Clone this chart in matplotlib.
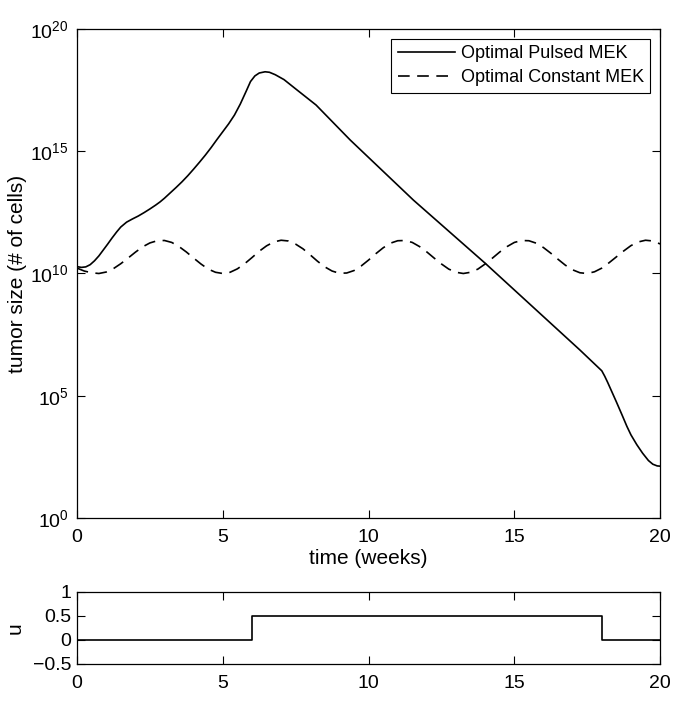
import matplotlib
matplotlib.use("Agg")
import matplotlib.pyplot as plt
import numpy as np

plt.rcParams['font.family'] = ['Liberation Sans', 'DejaVu Sans']
plt.rcParams['mathtext.fontset'] = 'custom'
plt.rcParams['mathtext.rm'] = 'Liberation Sans'
plt.rcParams['mathtext.it'] = 'Liberation Sans'
plt.rcParams['font.size'] = 14

# optimal pulsed MEK: time (weeks), log10 tumor size
pulsed_t = [0, 0.15, 0.3, 0.45, 0.6, 0.75, 0.9, 1.05, 1.2, 1.36, 1.5, 1.7, 1.9,
            2.1, 2.3, 2.5, 2.7, 2.85, 3.0, 3.2, 3.4, 3.6, 3.8, 4.0, 4.2, 4.4,
            4.6, 4.8, 5.0, 5.2, 5.4, 5.6, 5.8, 5.95, 6.1, 6.25, 6.45, 6.6, 6.8,
            7.1, 7.5, 8.2, 9.37, 11.54, 13.99, 17.25, 18.0, 18.1, 18.2, 18.35,
            18.5, 18.7, 18.86, 19.0, 19.2, 19.4, 19.6, 19.75, 19.9, 20.0]
pulsed_log = [10.28, 10.25, 10.27, 10.36, 10.52, 10.72, 10.96, 11.2, 11.45, 11.7,
              11.9, 12.1, 12.23, 12.35, 12.49, 12.64, 12.8, 12.93, 13.08, 13.3,
              13.52, 13.75, 14.0, 14.27, 14.55, 14.84, 15.15, 15.48, 15.8, 16.12,
              16.48, 16.93, 17.45, 17.85, 18.08, 18.2, 18.25, 18.23, 18.13,
              17.93, 17.55, 16.89, 15.46, 13.0, 10.43, 6.87, 6.02, 5.8, 5.55, 5.15,
              4.75, 4.2, 3.75, 3.4, 3.0, 2.65, 2.35, 2.2, 2.13, 2.12]

# optimal constant MEK, every quarter week
const_t = np.arange(0, 20.01, 0.25)
const_log = [10.22, 10.1, 10.03, 10.0, 10.06, 10.2, 10.4, 10.63, 10.87, 11.09,
             11.25, 11.34, 11.35, 11.27, 11.1, 10.88, 10.63, 10.39, 10.18, 10.05,
             10.0, 10.05, 10.19, 10.4, 10.65, 10.91, 11.13, 11.29, 11.36, 11.33,
             11.2, 11.01, 10.76, 10.5, 10.27, 10.1, 10.01, 10.02, 10.12, 10.31,
             10.55, 10.81, 11.05, 11.24, 11.34, 11.35, 11.27, 11.1, 10.88, 10.63,
             10.39, 10.18, 10.05, 10.0, 10.05, 10.18, 10.39, 10.63, 10.88, 11.1,
             11.27, 11.35, 11.34, 11.24, 11.06, 10.83, 10.58, 10.34, 10.15, 10.03,
             10.0, 10.07, 10.22, 10.44, 10.68, 10.92, 11.14, 11.29, 11.36, 11.33,
             11.21]

# control u
u_t = [0, 6, 6, 18, 18, 20]
u_val = [0, 0, 0.5, 0.5, 0, 0]

fig = plt.figure(figsize=(6.78, 7.09), dpi=100)
ax = fig.add_axes([0.1136, 0.2694, 0.86, 0.6897])
ax2 = fig.add_axes([0.1136, 0.0635, 0.86, 0.1016])

ax.plot(pulsed_t, 10 ** np.array(pulsed_log), 'k-', lw=1.2, label='Optimal Pulsed MEK')
ax.plot(const_t, 10 ** np.array(const_log), 'k--', lw=1.2, dashes=(7, 4.5),
        label='Optimal Constant MEK')
ax.set_yscale('log')
ax.set_xlim(0, 20)
ax.set_ylim(1, 1e20)
ax.set_yticks([1e0, 1e5, 1e10, 1e15, 1e20])
ax.yaxis.set_minor_locator(matplotlib.ticker.NullLocator())
ax.set_xticks([0, 5, 10, 15, 20])
ax.set_xlabel('time (weeks)', fontsize=15, labelpad=2)
ax.set_ylabel('tumor size (# of cells)', fontsize=15)
ax.yaxis.set_label_coords(-0.085, 0.5)
ax.tick_params(direction='in', top=True, right=True, length=6, width=0.8)
ax.tick_params(axis='y', pad=6)
ax.tick_params(axis='x', pad=8)
leg = ax.legend(loc='upper right', borderaxespad=0.55, handlelength=3.2,
                fancybox=False, framealpha=1, edgecolor='k', borderpad=0.35,
                labelspacing=0.4, handletextpad=0.3, fontsize=13)
leg.get_frame().set_linewidth(0.8)

ax2.plot(u_t, u_val, 'k-', lw=1.2)
ax2.set_xlim(0, 20)
ax2.set_ylim(-0.5, 1)
ax2.set_yticks([-0.5, 0, 0.5, 1])
ax2.set_yticklabels(['\u22120.5', '0', '0.5', '1'])
ax2.set_xticks([0, 5, 10, 15, 20])
ax2.set_ylabel('u', fontsize=15)
ax2.yaxis.set_label_coords(-0.09, 0.5)
ax2.tick_params(direction='in', top=True, right=True, length=6, width=0.8)
ax2.tick_params(axis='y', pad=4)
ax2.tick_params(axis='x', pad=8)

for a in (ax, ax2):
    for s in a.spines.values():
        s.set_linewidth(0.9)

fig.savefig('out.png', dpi=100)
